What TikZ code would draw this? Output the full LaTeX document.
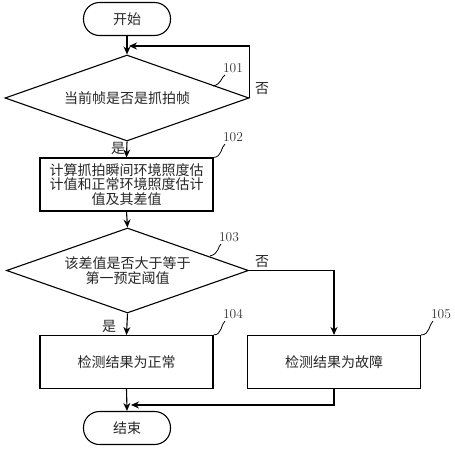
\documentclass[tikz,border=0pt]{standalone}
\usepackage{fontspec}
\newfontfamily\cjk{Noto Sans CJK SC}
\usetikzlibrary{shapes.geometric,arrows.meta}
\begin{document}
\begin{tikzpicture}[x=1pt,y=-1pt,
  every node/.style={font=\cjk\fontsize{14}{14.5}\selectfont, text=black!85},
  base/.style={draw=black, line width=1.1pt},
  term/.style={base, rounded corners=16pt, minimum width=87pt, minimum height=33pt, inner sep=0pt},
  proc/.style={base, rectangle, minimum width=173pt, minimum height=53pt, inner sep=1pt, align=center},
  dec/.style={base, diamond, aspect=2.8, inner sep=0pt, align=center},
  arr/.style={line width=1.1pt, -{Stealth[length=8pt,width=7pt]}},
  lead/.style={line width=0.8pt},
  num/.style={font=\rmfamily\fontsize{13.5}{14}\selectfont, inner sep=0pt, text=black!80},
  lab/.style={inner sep=0pt}
]
\useasboundingbox (0,0) rectangle (455,450);

\node[term] (start) at (127,19) {开始};
\node[dec, minimum width=244pt, minimum height=86pt] (d1) at (127,98) {当前帧是否是抓拍帧};
\node[proc] (b102) at (126.5,184.5) {计算抓拍瞬间环境照度估\\计值和正常环境照度估计\\值及其差值};
\node[dec, minimum width=242pt, minimum height=85pt] (d2) at (127.5,270.5) {该差值是否大于等于\\第一预定阈值};
\node[proc] (b104) at (126.5,362) {检测结果为正常};
\node[proc] (b105) at (334,362) {检测结果为故障};
\node[term] (end) at (127,428) {结束};

\coordinate (loopin) at (129,46);
\coordinate (joinin) at (131,405);

\draw[arr] (start) -- (d1.north);
\draw[arr] (d1.east) |- (loopin);
\draw[arr] (d1.south) -- (b102.north);
\draw[arr] (b102.south) -- (d2.north);
\draw[arr] (d2.east) -| (b105.north);
\draw[arr] (d2.south) -- (b104.north);
\draw[arr] (b104.south) -- (end.north);
\draw[arr] (b105.south) |- (joinin);

\node[lab] (no1) at (262,89) {否};
\node[lab] (yes1) at (118,148) {是};
\node[lab] (no2) at (262,262) {否};
\node[lab] (yes2) at (109,326) {是};

\node[num] (n101) at (233,68) {101};
\node[num] (n102) at (233,137) {102};
\node[num] (n103) at (229,237) {103};
\node[num] (n104) at (233,314) {104};
\node[num] (n105) at (441,314) {105};

\coordinate (c101) at (213,86);
\coordinate (c103) at (210,256);
\draw[lead] (c101) .. controls (222,84) and (221,77) .. (225,75);
\draw[lead] (b102.north east) .. controls (222,157) and (221,147) .. (225,144);
\draw[lead] (c103) .. controls (219,254) and (218,246) .. (221,244);
\draw[lead] (b104.north east) .. controls (222,335) and (221,324) .. (225,321);
\draw[lead] (b105.north east) .. controls (430,335) and (429,324) .. (433,321);
\end{tikzpicture}
\end{document}
